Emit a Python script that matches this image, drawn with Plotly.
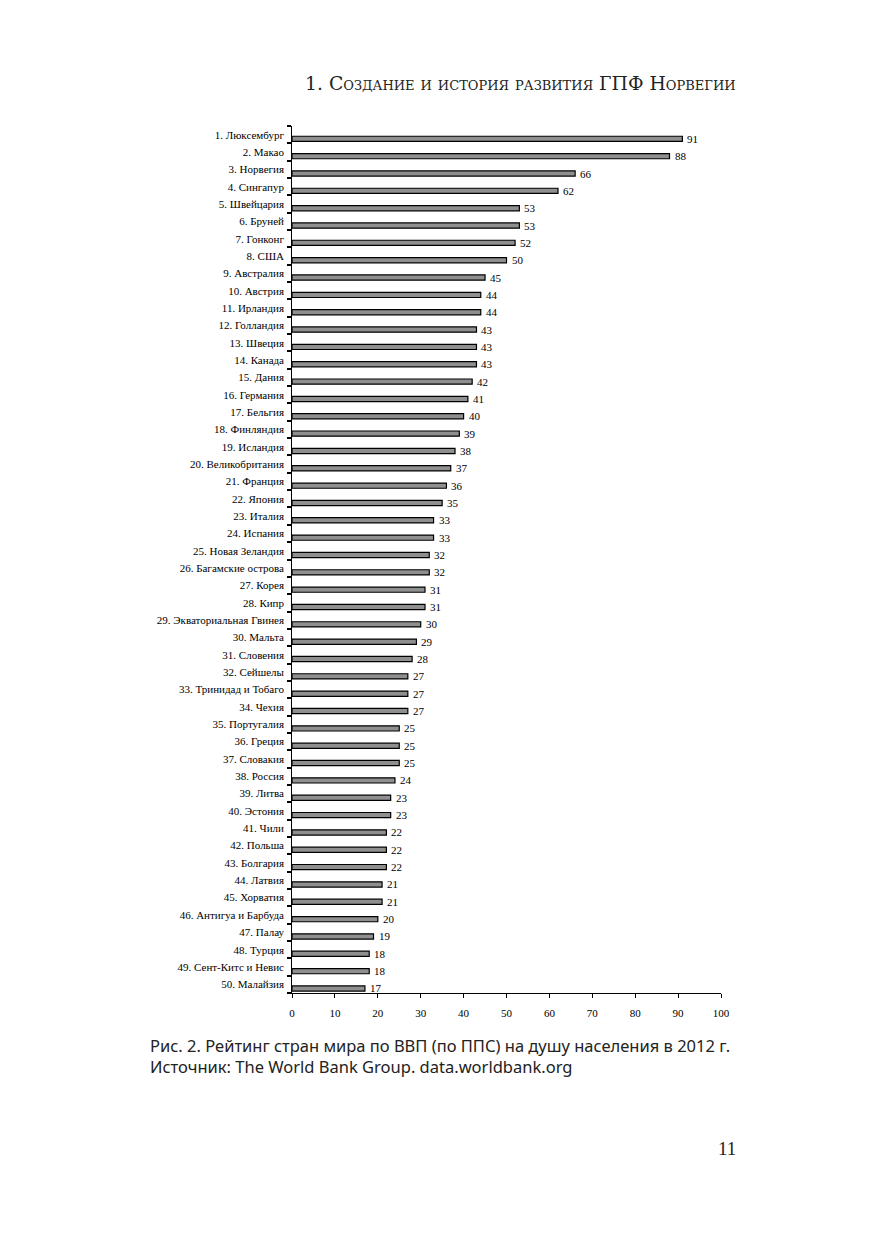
import plotly.graph_objects as go

countries = ["Люксембург", "Макао", "Норвегия", "Сингапур", "Швейцария", "Бруней", "Гонконг", "США",
             "Австралия", "Австрия", "Ирландия", "Голландия", "Швеция", "Канада", "Дания", "Германия",
             "Бельгия", "Финляндия", "Исландия", "Великобритания", "Франция", "Япония", "Италия", "Испания",
             "Новая Зеландия", "Багамские острова", "Корея", "Кипр", "Экваториальная Гвинея", "Мальта",
             "Словения", "Сейшелы", "Тринидад и Тобаго", "Чехия", "Португалия", "Греция", "Словакия",
             "Россия", "Литва", "Эстония", "Чили", "Польша", "Болгария", "Латвия", "Хорватия",
             "Антигуа и Барбуда", "Палау", "Турция", "Сент-Китс и Невис", "Малайзия"]
values = [91, 88, 66, 62, 53, 53, 52, 50, 45, 44, 44, 43, 43, 43, 42, 41, 40, 39, 38, 37, 36, 35, 33, 33,
          32, 32, 31, 31, 30, 29, 28, 27, 27, 27, 25, 25, 25, 24, 23, 23, 22, 22, 22, 21, 21, 20, 19, 18,
          18, 17]
x_ticks = [0, 10, 20, 30, 40, 50, 60, 70, 80, 90, 100]

labels = [f"{i + 1}. {c}" for i, c in enumerate(countries)]
n = len(countries)
bar_pos = [i + 0.74 for i in range(n)]
label_pos = [i + 0.5 for i in range(n)]

W, H = 875, 1241
OFF = 8  # page body margin
x0, x1 = 292 - OFF, 721 - OFF
y_top, y_bot = 126 - OFF, 993 - OFF


def px(x):
    return (x - OFF) / W


def py(y):
    return 1 - (y - OFF) / H


serif = "Liberation Serif"

fig = go.Figure(go.Bar(
    x=values, y=bar_pos, orientation="h", width=0.3,
    marker=dict(color="#8f8f8f", line=dict(color="black", width=1.2)),
    hoverinfo="skip",
))
# invisible trace to activate the label axis
fig.add_trace(go.Scatter(x=[None], y=[None], yaxis="y2", showlegend=False, hoverinfo="skip"))

# value labels to the right of each bar
for v, p in zip(values, bar_pos):
    fig.add_annotation(x=v, y=p, xref="x", yref="y", text=str(v), showarrow=False,
                       xanchor="left", yanchor="middle", xshift=3, yshift=0,
                       font=dict(family=serif, size=11, color="black"))

fig.update_layout(
    width=W, height=H, margin=dict(l=0, r=0, t=0, b=0),
    paper_bgcolor="white", plot_bgcolor="white", showlegend=False,
    xaxis=dict(domain=[x0 / W, x1 / W], range=[0, 100], tickvals=x_ticks,
               showgrid=False, zeroline=False, showline=True, linecolor="black", linewidth=1,
               ticks="outside", ticklen=4, tickcolor="black", tickwidth=1, ticklabelstandoff=6,
               tickfont=dict(family=serif, size=11, color="black"), automargin=False),
    yaxis=dict(domain=[1 - y_bot / H, 1 - y_top / H], range=[n, 0],
               tickvals=list(range(n + 1)), ticktext=[""] * (n + 1),
               ticks="outside", ticklen=4, tickcolor="black", tickwidth=1.5,
               showgrid=False, zeroline=False, showline=True, linecolor="black", linewidth=1,
               automargin=False),
    yaxis2=dict(domain=[1 - y_bot / H, 1 - y_top / H], range=[n, 0], overlaying="y", side="left",
                anchor="x", tickvals=label_pos, ticktext=labels, ticks="", ticklabelstandoff=7,
                showgrid=False, zeroline=False, showline=False,
                tickfont=dict(family=serif, size=11, color="black"), automargin=False),
)

fig.add_annotation(text="1. Создание и история развития ГПФ Норвегии", xref="paper", yref="paper",
                   x=px(738), y=py(83), xanchor="right", yanchor="middle", showarrow=False,
                   font=dict(family="DejaVu Serif", size=18.8, color="#222", variant="small-caps"))
fig.add_annotation(text="Рис. 2. Рейтинг стран мира по ВВП (по ППС) на душу населения в 2012 г.",
                   xref="paper", yref="paper", x=px(148), y=py(1045), xanchor="left", yanchor="middle",
                   showarrow=False, font=dict(family="Noto Sans", size=16.5, color="#222"))
fig.add_annotation(text="Источник: The World Bank Group. data.worldbank.org",
                   xref="paper", yref="paper", x=px(148), y=py(1066), xanchor="left", yanchor="middle",
                   showarrow=False, font=dict(family="Noto Sans", size=16.5, color="#222"))
fig.add_annotation(text="11", xref="paper", yref="paper", x=px(738), y=py(1148),
                   xanchor="right", yanchor="middle", showarrow=False,
                   font=dict(family=serif, size=19, color="#222"))

fig.write_html("out.html")
